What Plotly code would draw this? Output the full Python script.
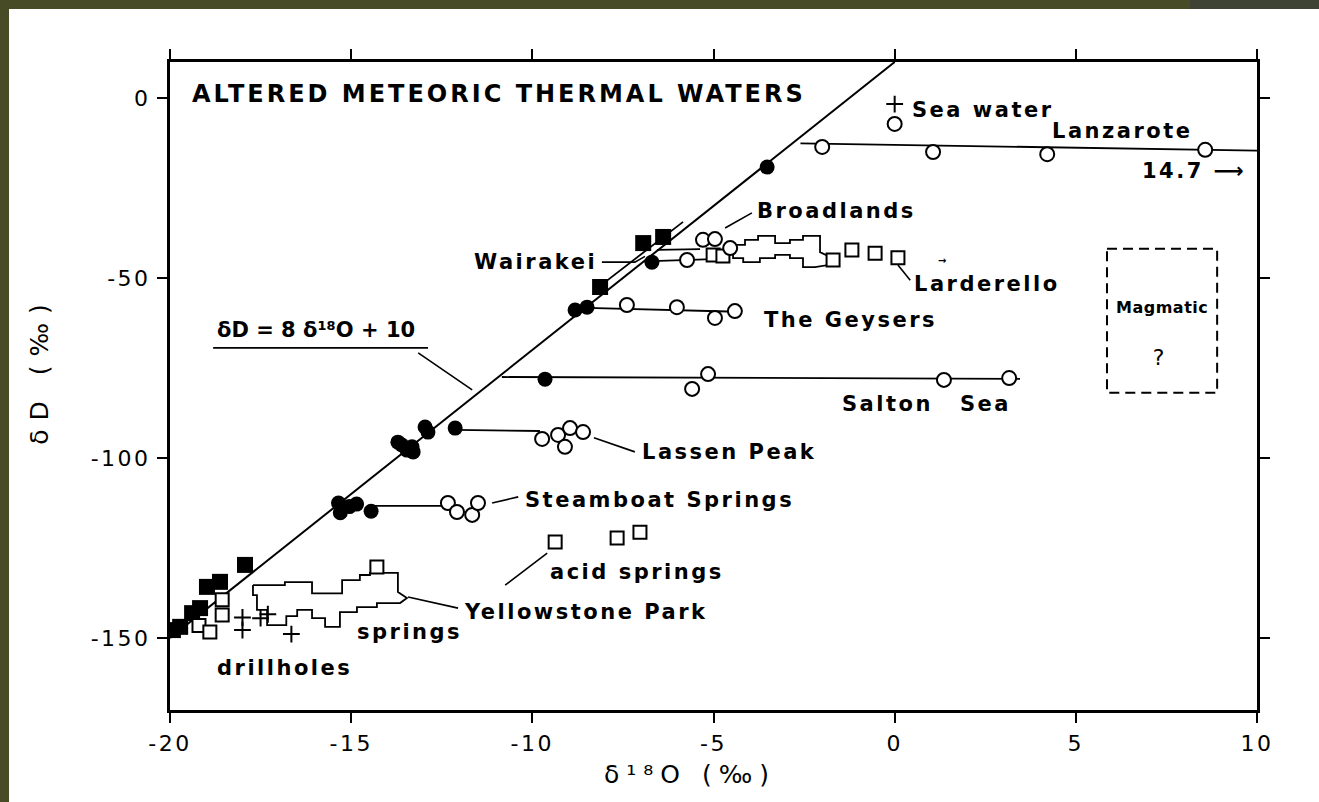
import plotly.graph_objects as go

# ---------------- axes ----------------
x_range = [-20, 10]
y_range = [-170, 10]
x_ticks = [-20, -15, -10, -5, 0, 5, 10]
x_tick_text = ["-20", "-15", "-10", "-5", "0", "5", "10"]
y_ticks = [0, -50, -100, -150]
y_tick_text = ["0", "-50", "-100", "-150"]

# ---------------- meteoric water line: dD = 8 d18O + 10 ----------------
mwl_o18 = [-20.0, 0.0]
mwl_dD = [8 * v + 10 for v in mwl_o18]

# ---------------- local meteoric waters (filled circles) ----------------
met_circ_o18 = [-3.52, -6.70, -8.82, -8.49, -9.65,
                -13.71, -13.60, -13.32, -13.46, -13.29, -12.96, -12.88, -12.13,
                -15.35, -15.30, -15.05, -14.85, -14.45]
met_circ_dD = [-19.2, -45.6, -58.9, -58.1, -78.1,
               -95.6, -96.4, -96.9, -97.8, -98.3, -91.4, -92.8, -91.7,
               -112.5, -115.2, -113.5, -112.8, -114.8]

# ---------------- local meteoric waters (filled squares) ----------------
met_sq_o18 = [-6.94, -6.39, -8.13,
              -17.93, -18.62, -18.98, -19.17, -19.39, -19.72, -19.92]
met_sq_dD = [-40.3, -38.6, -52.5,
             -129.7, -134.4, -135.8, -141.7, -143.1, -146.9, -147.8]

# ---------------- thermal waters (open circles) ----------------
lanz_o18 = [-2.0, 1.06, 4.21, 8.57]
lanz_dD = [-13.6, -15.0, -15.6, -14.4]
seawater_circ_o18 = [0.0]
seawater_circ_dD = [-7.2]
broad_o18 = [-5.29, -4.96, -4.54, -5.73]
broad_dD = [-39.4, -39.2, -41.7, -45.0]
geys_o18 = [-7.39, -6.01, -4.96, -4.41]
geys_dD = [-57.5, -58.1, -61.1, -59.2]
salton_o18 = [-5.59, -5.15, 1.36, 3.16]
salton_dD = [-80.8, -76.7, -78.3, -77.8]
lassen_o18 = [-9.73, -9.29, -8.96, -8.60, -9.10]
lassen_dD = [-94.7, -93.6, -91.7, -92.8, -96.9]
steam_o18 = [-12.33, -12.08, -11.66, -11.50]
steam_dD = [-112.5, -115.0, -115.8, -112.5]

# ---------------- thermal waters (open squares) ----------------
broad_sq_o18 = [-5.01, -4.74]
broad_sq_dD = [-43.6, -43.9]
larder_sq_o18 = [-1.70, -1.18, -0.54, 0.09]
larder_sq_dD = [-45.0, -42.2, -43.1, -44.4]
acid_sq_o18 = [-9.37, -7.66, -7.03]
acid_sq_dD = [-123.3, -122.2, -120.6]
yell_sq_o18 = [-14.29, -18.56, -18.56, -19.20, -18.90]
yell_sq_dD = [-130.3, -139.4, -143.6, -146.5, -148.3]

# ---------------- drillholes and sea water (crosses) ----------------
drill_o18 = [-18.0, -18.0, -17.5, -17.3, -16.65]
drill_dD = [-144.3, -147.8, -144.5, -143.4, -148.9]
seawater_o18 = [0.0]
seawater_dD = [-1.7]

# ---------------- outlines of clustered analyses ----------------
larder_outline_o18 = [-4.46, -4.13, -4.13, -3.77, -3.77, -3.30, -3.30, -2.89, -2.89, -2.53,
                      -2.53, -2.06, -2.06, -1.84, -1.84, -2.20, -2.53, -2.53, -2.89, -2.89,
                      -3.30, -3.30, -3.72, -3.72, -4.18, -4.18, -4.46, -4.46]
larder_outline_dD = [-40.8, -40.8, -39.4, -39.4, -38.3, -38.3, -40.3, -40.3, -39.4, -39.4,
                     -38.3, -38.3, -42.8, -43.9, -46.4, -47.0, -47.0, -44.5, -44.5, -43.6,
                     -43.6, -44.5, -44.5, -45.6, -45.6, -44.5, -44.5, -40.8]
yell_outline_o18 = [-17.71, -16.83, -16.83, -16.08, -16.08, -15.25, -15.25, -14.76, -14.76,
                    -14.48, -14.48, -13.71, -13.71, -13.46, -13.65, -14.29, -14.29, -14.84,
                    -14.84, -15.31, -15.31, -15.72, -15.72, -16.08, -16.08, -16.49, -16.49,
                    -16.79, -16.79, -17.32, -17.32, -17.60, -17.60, -17.71, -17.71]
yell_outline_dD = [-135.3, -135.3, -134.5, -134.5, -137.6, -137.6, -133.9, -133.9, -132.5,
                   -132.5, -131.9, -131.9, -137.2, -138.9, -140.3, -140.3, -141.4, -141.4,
                   -142.8, -142.8, -146.9, -146.9, -144.5, -144.5, -142.2, -142.2, -143.9,
                   -143.9, -146.4, -146.4, -142.2, -142.2, -138.1, -138.1, -135.3]

# ---------------- isotopic shift tie lines ----------------
lanz_tie_o18, lanz_tie_dD = [-2.6, 10.0], [-12.6, -14.6]
broad_tie_o18, broad_tie_dD = [-6.56, -5.37], [-42.2, -42.0]
wair_tie_o18, wair_tie_dD = [-6.70, -4.60], [-45.3, -44.6]
wair_trend_o18, wair_trend_dD = [-8.27, -5.84], [-53.3, -34.4]
geys_tie_o18, geys_tie_dD = [-8.50, -4.60], [-58.3, -59.3]
salton_tie_o18, salton_tie_dD = [-10.84, 3.46], [-77.5, -78.0]
lassen_tie_o18, lassen_tie_dD = [-12.13, -9.79], [-92.2, -92.5]
steam_tie_o18, steam_tie_dD = [-14.40, -12.50], [-113.3, -113.3]

# ---------------- label leaders ----------------
leaders = [
    ([-13.15, -11.66], [-70.8, -81.1]),           # equation
    ([-18.81, -12.88], [-69.4, -69.4]),           # equation underline
    ([-4.68, -3.94], [-36.1, -31.9]),             # Broadlands
    ([-8.08, -7.17, -6.89], [-45.6, -45.6, -44.0]),  # Wairakei
    ([0.09, 0.43], [-46.4, -50.6]),               # Larderello
    ([-8.30, -7.17], [-94.4, -98.3]),             # Lassen Peak
    ([-11.11, -10.39], [-112.5, -110.8]),         # Steamboat Springs
    ([-10.75, -9.59], [-135.3, -126.4]),          # acid springs
    ([-13.43, -12.05], [-138.6, -141.7]),         # Yellowstone Park
]

# ---------------- magmatic water field ----------------
magmatic_o18 = [5.86, 8.90]
magmatic_dD = [-81.9, -41.9]

FONT = "DejaVu Sans"
INK = "black"

fig = go.Figure()


def add_line(xs, ys, width=1.8, dash=None, fill=None):
    fig.add_trace(go.Scatter(
        x=xs, y=ys, mode="lines",
        line=dict(color=INK, width=width, dash=dash),
        fill=fill, fillcolor="white" if fill else None,
        hoverinfo="skip", showlegend=False))


def add_markers(xs, ys, symbol, size, filled):
    fig.add_trace(go.Scatter(
        x=xs, y=ys, mode="markers",
        marker=dict(symbol=symbol, size=size,
                    color=INK if filled else "white",
                    line=dict(color=INK, width=0 if filled else 2)),
        hoverinfo="skip", showlegend=False))


add_line(mwl_o18, mwl_dD, width=2)
for xs, ys in [(lanz_tie_o18, lanz_tie_dD), (broad_tie_o18, broad_tie_dD),
               (wair_tie_o18, wair_tie_dD), (wair_trend_o18, wair_trend_dD),
               (geys_tie_o18, geys_tie_dD), (salton_tie_o18, salton_tie_dD),
               (lassen_tie_o18, lassen_tie_dD), (steam_tie_o18, steam_tie_dD)]:
    add_line(xs, ys)
for xs, ys in leaders:
    add_line(xs, ys, width=1.6)

add_line(larder_outline_o18, larder_outline_dD, width=1.8, fill="toself")
add_line(yell_outline_o18, yell_outline_dD, width=1.8, fill="toself")

# dashed magmatic box
box_x = [magmatic_o18[0], magmatic_o18[1], magmatic_o18[1], magmatic_o18[0], magmatic_o18[0]]
box_y = [magmatic_dD[1], magmatic_dD[1], magmatic_dD[0], magmatic_dD[0], magmatic_dD[1]]
add_line(box_x, box_y, width=2, dash="10px,6px")

add_markers(met_sq_o18, met_sq_dD, "square", 16, True)
add_markers(met_circ_o18, met_circ_dD, "circle", 15, True)
for xs, ys in [(broad_sq_o18, broad_sq_dD), (larder_sq_o18, larder_sq_dD),
               (acid_sq_o18, acid_sq_dD), (yell_sq_o18, yell_sq_dD)]:
    add_markers(xs, ys, "square", 13, False)
for xs, ys in [(lanz_o18, lanz_dD), (seawater_circ_o18, seawater_circ_dD),
               (broad_o18, broad_dD), (geys_o18, geys_dD), (salton_o18, salton_dD),
               (lassen_o18, lassen_dD), (steam_o18, steam_dD)]:
    add_markers(xs, ys, "circle", 14, False)

fig.add_trace(go.Scatter(
    x=drill_o18 + seawater_o18, y=drill_dD + seawater_dD, mode="markers",
    marker=dict(symbol="cross-thin", size=12, line=dict(color=INK, width=2)),
    hoverinfo="skip", showlegend=False))


def label(text, x, y, anchor="left", size=21, weight="bold"):
    return dict(text=text, x=x, y=y, xref="x", yref="y",
                xanchor=anchor, yanchor="middle",
                align=anchor if anchor in ("left", "right") else "center",
                showarrow=False,
                font=dict(family=FONT, size=size, color=INK, weight=weight))


annotations = [
    label("ALTERED METEORIC THERMAL WATERS", -19.45, 1.1, size=24),
    dict(text="δ¹⁸O (‰)", x=0.478, y=-0.100, xref="paper", yref="paper",
         xanchor="center", yanchor="middle", showarrow=False,
         font=dict(family=FONT, size=25, color=INK)),
    dict(text="δD (‰)", x=-0.1196, y=0.525, xref="paper", yref="paper",
         xanchor="center", yanchor="middle", textangle=-90, showarrow=False,
         font=dict(family=FONT, size=25, color=INK)),
    label("δD = 8 δ¹⁸O + 10", -18.76, -64.4, size=21),
    label("Magmatic", 7.38, -58.3, anchor="center", size=16),
    label("Sea water", 0.43, -3.3),
    label("Lanzarote", 4.29, -9.2),
    label("14.7 ⟶", 6.77, -20.3),
    label("Broadlands", -3.85, -31.4),
    label("Wairakei", -8.15, -45.6, anchor="right"),
    label("→", 1.15, -45.0, size=10),
    label("Larderello", 0.48, -51.7),
    label("The Geysers", -3.66, -61.7),
    label("Salton", -1.51, -85.0),
    label("Sea", 1.75, -85.0),
    label("Lassen Peak", -7.03, -98.3),
    label("Steamboat Springs", -10.26, -111.7),
    label("acid springs", -9.57, -131.7),
    label("Yellowstone Park", -11.94, -142.8),
    label("springs", -14.89, -148.3),
    label("drillholes", -18.76, -158.3),
    label("?", 7.33, -72.2, anchor="center", size=22, weight="normal"),
]

axis_common = dict(
    showline=True, linewidth=3, linecolor=INK, mirror="ticks",
    ticks="outside", ticklen=10, tickwidth=2, tickcolor=INK,
    showgrid=False, zeroline=False,
    tickfont=dict(family=FONT, size=22, color=INK),
)

fig.update_layout(
    width=1319, height=802, autosize=False,
    margin=dict(l=170, r=62, t=62, b=92),
    paper_bgcolor="#474c27", plot_bgcolor="white",
    xaxis=dict(range=x_range, tickvals=x_ticks, ticktext=x_tick_text,
               ticklabelstandoff=2, **axis_common),
    yaxis=dict(range=y_range, tickvals=y_ticks, ticktext=y_tick_text,
               ticklabelstandoff=2, **axis_common),
    annotations=annotations,
    shapes=[
        dict(type="rect", xref="paper", yref="paper", layer="below",
             x0=-0.1481, x1=1.07, y0=-0.16, y1=1.0818,
             fillcolor="white", line=dict(width=0)),
        dict(type="rect", xref="paper", yref="paper", layer="below",
             x0=0.9384, x1=1.07, y0=1.0818, y1=1.10,
             fillcolor="#3f4336", line=dict(width=0)),
    ],
)

spacing_css = """
var st = document.createElement('style');
st.textContent = '.annotation-text{letter-spacing:2.5px}' +
  ' g.annotation[data-index="0"] .annotation-text{letter-spacing:3px}' +
  ' g.annotation[data-index="1"] .annotation-text{letter-spacing:7px}' +
  ' g.annotation[data-index="2"] .annotation-text{letter-spacing:9px}' +
  ' g.annotation[data-index="3"] .annotation-text{letter-spacing:0px}' +
  ' g.annotation[data-index="4"] .annotation-text{letter-spacing:0.5px}' +
  ' .xtick text, .ytick text{letter-spacing:2.5px}';
document.head.appendChild(st);
"""

fig.write_html("out.html", post_script=spacing_css)
